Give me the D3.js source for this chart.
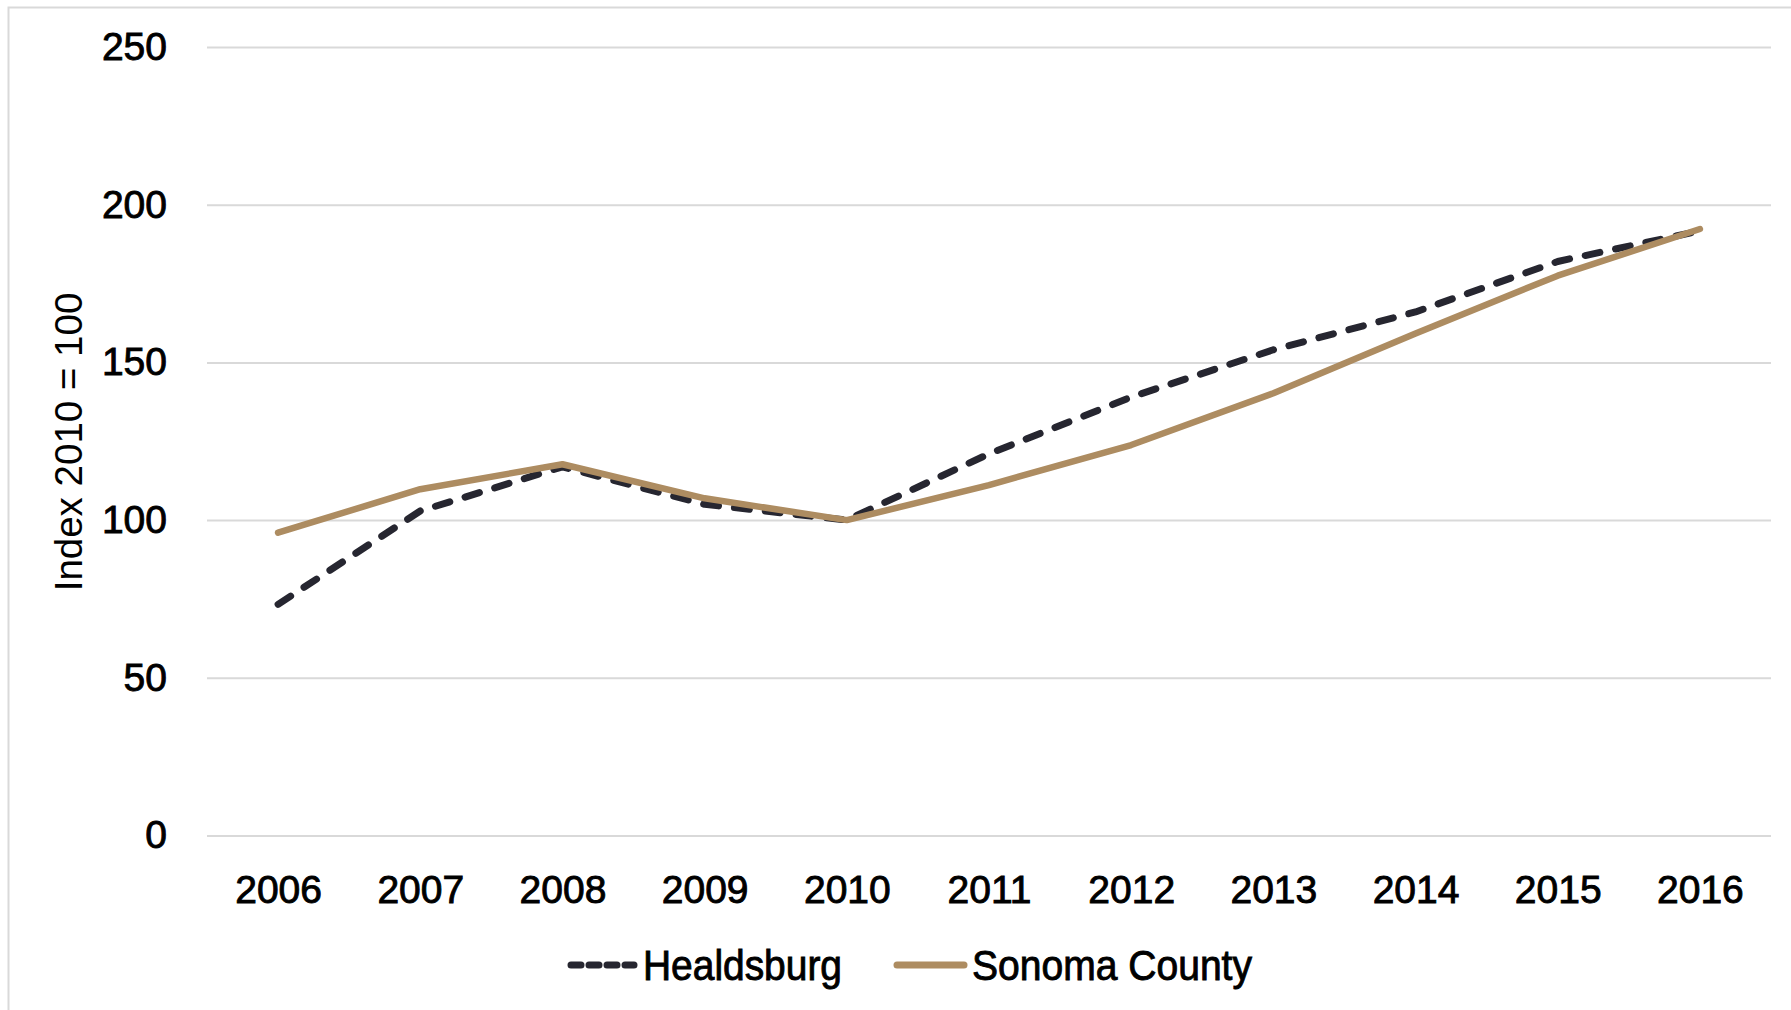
<!DOCTYPE html>
<html>
<head>
<meta charset="utf-8">
<script src="https://cdn.jsdelivr.net/npm/d3@7/dist/d3.min.js"></script>
<style>
  html, body { margin: 0; padding: 0; background: #fff; }
  svg { display: block; }
  text { font-family: "Liberation Sans", Arial, sans-serif; fill: #000; }
  .heavy { stroke: #000; stroke-width: 0.9px; paint-order: stroke; }
</style>
</head>
<body>
<svg id="chart" width="1791" height="1010"></svg>
<script>
// Years on the category axis
const years = ["2006", "2007", "2008", "2009", "2010", "2011", "2012", "2013", "2014", "2015", "2016"];
// Index values, 2010 = 100
const healdsburg = [73.3, 102.9, 116.9, 105.0, 100, 121.0, 139.0, 154.0, 166.0, 182.0, 191.7];
const sonomaCounty = [96.0, 109.8, 117.7, 106.9, 100, 111.1, 123.8, 140.2, 159.2, 177.5, 192.3];
// Value axis ticks
const yTicks = [0, 50, 100, 150, 200, 250];
const seriesNames = ["Healdsburg", "Sonoma County"];
const yTitle = "Index 2010 = 100";

const svg = d3.select("#chart");
const W = 1791, H = 1010;
const plot = { left: 207, right: 1771, top: 47, bottom: 835.5 };

svg.append("rect").attr("width", W).attr("height", H).attr("fill", "#fff");
// chart frame
svg.append("rect")
  .attr("x", 8.5).attr("y", 7.5)
  .attr("width", W + 10).attr("height", H + 10)
  .attr("fill", "none").attr("stroke", "#d9d9d9").attr("stroke-width", 2);

const x = d3.scalePoint().domain(years).range([plot.left, plot.right]).padding(0.5);
const y = d3.scaleLinear().domain([0, 250]).range([plot.bottom, plot.top]);

// gridlines + y labels
const yAxis = d3.axisLeft(y).tickValues(yTicks).tickSize(-(plot.right - plot.left)).tickPadding(40);
const gy = svg.append("g").attr("transform", `translate(${plot.left},0)`).call(yAxis);
gy.select(".domain").remove();
gy.selectAll(".tick line").attr("stroke", "#d9d9d9").attr("stroke-width", 2);
gy.selectAll(".tick text").attr("font-size", 39).attr("fill", "#000").classed("heavy", true)
  .style("font-family", "'Liberation Sans', Arial, sans-serif");

// x labels
const xAxis = d3.axisBottom(x).tickSize(0).tickPadding(40);
const gx = svg.append("g").attr("transform", `translate(0,${plot.bottom})`).call(xAxis);
gx.select(".domain").remove();
gx.selectAll(".tick text").attr("font-size", 39).attr("fill", "#000").classed("heavy", true)
  .style("font-family", "'Liberation Sans', Arial, sans-serif");

// y title
svg.append("text")
  .attr("transform", `translate(${82},${442}) rotate(-90)`)
  .attr("text-anchor", "middle")
  .attr("font-size", 38.5)
  .text(yTitle);

const line = d3.line().x((d, i) => x(years[i])).y(d => y(d));
const dark = "#262630", tan = "#ad8c61";

svg.append("path").datum(healdsburg)
  .attr("d", line).attr("fill", "none")
  .attr("stroke", dark).attr("stroke-width", 7)
  .attr("stroke-linecap", "round").attr("stroke-linejoin", "round")
  .attr("stroke-dasharray", "15,16");

svg.append("path").datum(sonomaCounty)
  .attr("d", line).attr("fill", "none")
  .attr("stroke", tan).attr("stroke-width", 6.5)
  .attr("stroke-linecap", "round").attr("stroke-linejoin", "round");

// legend
const legY = 965;
const legend = [
  { name: seriesNames[0], color: dark, dash: "10,8", x0: 571, x1: 634, tx: 643, len: 199 },
  { name: seriesNames[1], color: tan, dash: null, x0: 897, x1: 964, tx: 972, len: 280 }
];
const lg = svg.append("g");
legend.forEach(l => {
  lg.append("line")
    .attr("x1", l.x0).attr("x2", l.x1).attr("y1", legY).attr("y2", legY)
    .attr("stroke", l.color).attr("stroke-width", 7)
    .attr("stroke-linecap", "round")
    .attr("stroke-dasharray", l.dash);
  lg.append("text")
    .attr("x", l.tx).attr("y", 980)
    .attr("font-size", 42)
    .attr("class", "heavy")
    .attr("textLength", l.len).attr("lengthAdjust", "spacingAndGlyphs")
    .text(l.name);
});
</script>
</body>
</html>
